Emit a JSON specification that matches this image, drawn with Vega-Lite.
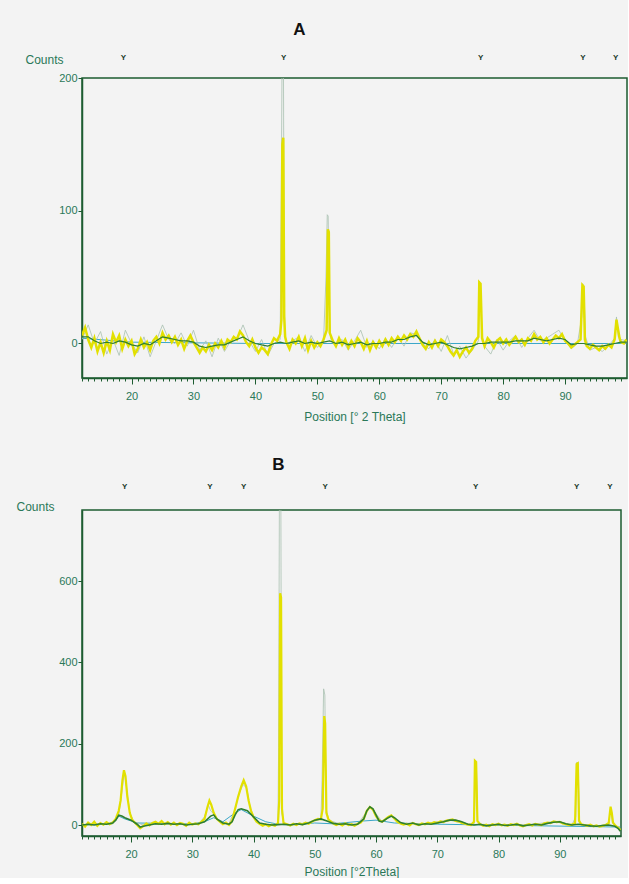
{
"$schema": "https://vega.github.io/schema/vega-lite/v6.json",
"background": "#f3f3f3",
"padding": {"left": 15, "top": 20, "right": 0, "bottom": 0},
"spacing": 32,
"config": {
  "view": {"stroke": "#1d5c30", "strokeWidth": 1.5},
  "axis": {"grid": false, "domainColor": "#1d5c30", "tickColor": "#1d5c30", "labelFont": "Liberation Sans", "labelFontSize": 11, "labelColor": "#2a7858", "titleFont": "Liberation Sans", "titleFontSize": 12, "titleFontWeight": "normal", "titleColor": "#2a7858"},
  "title": {"font": "Liberation Sans", "fontSize": 17, "fontWeight": "bold", "color": "#111111"}
},
"datasets": {
  "a_obs": [{"x":12,"y":6},{"x":12.5,"y":12},{"x":13,"y":3},{"x":13.5,"y":-3},{"x":14,"y":4},{"x":14.5,"y":-6},{"x":15,"y":1},{"x":15.5,"y":-7},{"x":16,"y":2},{"x":16.5,"y":-5},{"x":17,"y":7},{"x":17.5,"y":1},{"x":18,"y":6},{"x":18.5,"y":-4},{"x":19,"y":3},{"x":19.5,"y":-2},{"x":20,"y":2},{"x":20.5,"y":-8},{"x":21,"y":-4},{"x":21.5,"y":3},{"x":22,"y":-3},{"x":22.5,"y":1},{"x":23,"y":-5},{"x":23.5,"y":2},{"x":24,"y":5},{"x":24.5,"y":0},{"x":25,"y":8},{"x":25.5,"y":3},{"x":26,"y":6},{"x":26.5,"y":1},{"x":27,"y":5},{"x":27.5,"y":-1},{"x":28,"y":3},{"x":28.5,"y":-4},{"x":29,"y":2},{"x":29.5,"y":6},{"x":30,"y":1},{"x":30.5,"y":-3},{"x":31,"y":-7},{"x":31.5,"y":-3},{"x":32,"y":-6},{"x":32.5,"y":-1},{"x":33,"y":-5},{"x":33.5,"y":0},{"x":34,"y":-3},{"x":34.5,"y":2},{"x":35,"y":-3},{"x":35.5,"y":3},{"x":36,"y":1},{"x":36.5,"y":5},{"x":37,"y":3},{"x":37.5,"y":9},{"x":38,"y":6},{"x":38.5,"y":1},{"x":39,"y":-2},{"x":39.5,"y":3},{"x":40,"y":-3},{"x":40.5,"y":-7},{"x":41,"y":-3},{"x":41.5,"y":-5},{"x":42,"y":-8},{"x":42.5,"y":-1},{"x":43,"y":4},{"x":43.5,"y":2},{"x":44,"y":7},{"x":44.2,"y":18},{"x":44.35,"y":150},{"x":44.5,"y":155},{"x":44.65,"y":20},{"x":44.8,"y":5},{"x":45,"y":1},{"x":45.5,"y":-4},{"x":46,"y":3},{"x":46.5,"y":0},{"x":47,"y":5},{"x":47.5,"y":-2},{"x":48,"y":4},{"x":48.5,"y":-5},{"x":49,"y":2},{"x":49.5,"y":-3},{"x":50,"y":1},{"x":50.5,"y":-2},{"x":51,"y":3},{"x":51.5,"y":10},{"x":51.7,"y":86},{"x":51.85,"y":84},{"x":52,"y":8},{"x":52.5,"y":2},{"x":53,"y":-2},{"x":53.5,"y":4},{"x":54,"y":-1},{"x":54.5,"y":3},{"x":55,"y":-3},{"x":55.5,"y":2},{"x":56,"y":-2},{"x":56.5,"y":4},{"x":57,"y":1},{"x":57.5,"y":-4},{"x":58,"y":2},{"x":58.5,"y":-5},{"x":59,"y":1},{"x":59.5,"y":-3},{"x":60,"y":2},{"x":60.5,"y":-2},{"x":61,"y":3},{"x":61.5,"y":-1},{"x":62,"y":4},{"x":62.5,"y":1},{"x":63,"y":5},{"x":63.5,"y":2},{"x":64,"y":6},{"x":64.5,"y":3},{"x":65,"y":7},{"x":65.5,"y":5},{"x":66,"y":9},{"x":66.5,"y":4},{"x":67,"y":-1},{"x":67.5,"y":-4},{"x":68,"y":1},{"x":68.5,"y":-3},{"x":69,"y":2},{"x":69.5,"y":-2},{"x":70,"y":3},{"x":70.5,"y":1},{"x":71,"y":-2},{"x":71.5,"y":-6},{"x":72,"y":-9},{"x":72.5,"y":-5},{"x":73,"y":-10},{"x":73.5,"y":-6},{"x":74,"y":-3},{"x":74.5,"y":-7},{"x":75,"y":-4},{"x":75.5,"y":2},{"x":76,"y":5},{"x":76.15,"y":46},{"x":76.35,"y":45},{"x":76.6,"y":4},{"x":77,"y":-2},{"x":77.5,"y":4},{"x":78,"y":1},{"x":78.5,"y":-3},{"x":79,"y":2},{"x":79.5,"y":4},{"x":80,"y":0},{"x":80.5,"y":3},{"x":81,"y":-1},{"x":81.5,"y":2},{"x":82,"y":5},{"x":82.5,"y":1},{"x":83,"y":3},{"x":83.5,"y":-1},{"x":84,"y":4},{"x":84.5,"y":2},{"x":85,"y":7},{"x":85.5,"y":3},{"x":86,"y":5},{"x":86.5,"y":1},{"x":87,"y":4},{"x":87.5,"y":0},{"x":88,"y":3},{"x":88.5,"y":6},{"x":89,"y":4},{"x":89.5,"y":7},{"x":90,"y":2},{"x":90.5,"y":0},{"x":91,"y":-3},{"x":91.5,"y":-1},{"x":92,"y":1},{"x":92.5,"y":3},{"x":92.8,"y":44},{"x":93,"y":43},{"x":93.2,"y":3},{"x":93.5,"y":-2},{"x":94,"y":-4},{"x":94.5,"y":-1},{"x":95,"y":-3},{"x":95.5,"y":-5},{"x":96,"y":-2},{"x":96.5,"y":-4},{"x":97,"y":-1},{"x":97.5,"y":-3},{"x":98,"y":3},{"x":98.3,"y":18},{"x":98.5,"y":12},{"x":98.8,"y":4},{"x":99,"y":1},{"x":99.5,"y":0},{"x":99.9,"y":3}],
  "a_calc": [{"x":12,"y":3},{"x":13,"y":14},{"x":14,"y":0},{"x":15,"y":9},{"x":16,"y":-8},{"x":17,"y":3},{"x":18,"y":-9},{"x":19,"y":10},{"x":20,"y":0},{"x":21,"y":-7},{"x":22,"y":5},{"x":23,"y":-10},{"x":24,"y":2},{"x":25,"y":14},{"x":26,"y":3},{"x":27,"y":0},{"x":28,"y":8},{"x":29,"y":-2},{"x":30,"y":10},{"x":31,"y":-5},{"x":32,"y":2},{"x":33,"y":-10},{"x":34,"y":4},{"x":35,"y":-6},{"x":36,"y":2},{"x":37,"y":3},{"x":38,"y":14},{"x":39,"y":2},{"x":40,"y":-6},{"x":41,"y":3},{"x":42,"y":-9},{"x":43,"y":0},{"x":44,"y":3},{"x":44.2,"y":130},{"x":44.35,"y":250},{"x":44.5,"y":250},{"x":44.65,"y":30},{"x":44.8,"y":6},{"x":45,"y":0},{"x":46,"y":2},{"x":47,"y":5},{"x":48,"y":-6},{"x":49,"y":6},{"x":50,"y":-3},{"x":51,"y":2},{"x":51.4,"y":50},{"x":51.6,"y":97},{"x":51.75,"y":96},{"x":51.9,"y":40},{"x":52,"y":15},{"x":52.2,"y":3},{"x":53,"y":0},{"x":54,"y":3},{"x":55,"y":-5},{"x":56,"y":2},{"x":57,"y":10},{"x":58,"y":-3},{"x":59,"y":2},{"x":60,"y":-4},{"x":61,"y":4},{"x":62,"y":-3},{"x":63,"y":5},{"x":64,"y":-2},{"x":65,"y":8},{"x":66,"y":7},{"x":67,"y":0},{"x":68,"y":-4},{"x":69,"y":3},{"x":70,"y":-6},{"x":71,"y":6},{"x":72,"y":-8},{"x":73,"y":-2},{"x":74,"y":-11},{"x":75,"y":-5},{"x":76,"y":2},{"x":76.15,"y":47},{"x":76.35,"y":30},{"x":76.5,"y":20},{"x":76.7,"y":3},{"x":77,"y":-2},{"x":78,"y":-8},{"x":79,"y":3},{"x":80,"y":-5},{"x":81,"y":2},{"x":82,"y":6},{"x":83,"y":-3},{"x":84,"y":4},{"x":85,"y":10},{"x":86,"y":2},{"x":87,"y":4},{"x":88,"y":7},{"x":89,"y":10},{"x":90,"y":2},{"x":91,"y":-4},{"x":92,"y":0},{"x":92.7,"y":20},{"x":92.85,"y":45},{"x":93.05,"y":40},{"x":93.3,"y":5},{"x":94,"y":-5},{"x":95,"y":-3},{"x":96,"y":-6},{"x":97,"y":-2},{"x":98,"y":4},{"x":98.3,"y":20},{"x":98.6,"y":5},{"x":99,"y":3},{"x":99.9,"y":2}],
  "a_fit": [{"x":12,"y":5},{"x":13,"y":5},{"x":14,"y":2},{"x":15,"y":0},{"x":16,"y":1},{"x":17,"y":0},{"x":18,"y":2},{"x":19,"y":1},{"x":20,"y":-1},{"x":21,"y":-2},{"x":22,"y":0},{"x":23,"y":-1},{"x":24,"y":2},{"x":25,"y":5},{"x":26,"y":4},{"x":27,"y":3},{"x":28,"y":2},{"x":29,"y":2},{"x":30,"y":1},{"x":31,"y":-2},{"x":32,"y":-3},{"x":33,"y":-2},{"x":34,"y":-1},{"x":35,"y":-1},{"x":36,"y":1},{"x":37,"y":3},{"x":38,"y":5},{"x":39,"y":2},{"x":40,"y":0},{"x":41,"y":-1},{"x":42,"y":-2},{"x":43,"y":0},{"x":44,"y":1},{"x":45,"y":0},{"x":46,"y":1},{"x":47,"y":2},{"x":48,"y":0},{"x":49,"y":1},{"x":50,"y":0},{"x":51,"y":1},{"x":52,"y":2},{"x":53,"y":0},{"x":54,"y":1},{"x":55,"y":-1},{"x":56,"y":0},{"x":57,"y":1},{"x":58,"y":-1},{"x":59,"y":0},{"x":60,"y":0},{"x":61,"y":1},{"x":62,"y":1},{"x":63,"y":3},{"x":64,"y":3},{"x":65,"y":5},{"x":66,"y":6},{"x":67,"y":1},{"x":68,"y":-1},{"x":69,"y":0},{"x":70,"y":1},{"x":71,"y":-1},{"x":72,"y":-3},{"x":73,"y":-4},{"x":74,"y":-3},{"x":75,"y":-2},{"x":76,"y":0},{"x":77,"y":0},{"x":78,"y":1},{"x":79,"y":1},{"x":80,"y":1},{"x":81,"y":1},{"x":82,"y":2},{"x":83,"y":2},{"x":84,"y":2},{"x":85,"y":4},{"x":86,"y":3},{"x":87,"y":2},{"x":88,"y":3},{"x":89,"y":4},{"x":90,"y":3},{"x":91,"y":-1},{"x":92,"y":0},{"x":93,"y":0},{"x":94,"y":-1},{"x":95,"y":-2},{"x":96,"y":-2},{"x":97,"y":-1},{"x":98,"y":0},{"x":99,"y":1},{"x":99.9,"y":1}],
  "a_bg": [{"x":12,"y":4},{"x":20,"y":1},{"x":40,"y":0},{"x":60,"y":0},{"x":80,"y":0},{"x":99.9,"y":0}],
  "a_mk": [{"x":18.6},{"x":44.5},{"x":76.3},{"x":92.8},{"x":98.1}],
  "b_obs": [{"x":12,"y":3},{"x":12.5,"y":-4},{"x":13,"y":6},{"x":13.5,"y":0},{"x":14,"y":8},{"x":14.5,"y":-2},{"x":15,"y":5},{"x":15.5,"y":1},{"x":16,"y":7},{"x":16.5,"y":2},{"x":17,"y":6},{"x":17.5,"y":15},{"x":18,"y":35},{"x":18.3,"y":60},{"x":18.6,"y":110},{"x":18.85,"y":135},{"x":19.1,"y":120},{"x":19.4,"y":70},{"x":19.8,"y":30},{"x":20.2,"y":12},{"x":20.5,"y":8},{"x":21,"y":0},{"x":21.5,"y":-8},{"x":22,"y":-3},{"x":22.5,"y":4},{"x":23,"y":-1},{"x":23.5,"y":5},{"x":24,"y":8},{"x":24.5,"y":3},{"x":25,"y":10},{"x":25.5,"y":2},{"x":26,"y":7},{"x":26.5,"y":1},{"x":27,"y":6},{"x":27.5,"y":0},{"x":28,"y":5},{"x":28.5,"y":3},{"x":29,"y":-2},{"x":29.5,"y":6},{"x":30,"y":1},{"x":30.5,"y":4},{"x":31,"y":2},{"x":31.5,"y":8},{"x":32,"y":15},{"x":32.5,"y":45},{"x":32.8,"y":60},{"x":33.1,"y":50},{"x":33.5,"y":30},{"x":34,"y":15},{"x":34.5,"y":8},{"x":35,"y":2},{"x":35.5,"y":6},{"x":36,"y":0},{"x":36.5,"y":10},{"x":37,"y":40},{"x":37.5,"y":70},{"x":38,"y":95},{"x":38.4,"y":110},{"x":38.8,"y":95},{"x":39.2,"y":60},{"x":39.6,"y":35},{"x":40,"y":20},{"x":40.5,"y":8},{"x":41,"y":3},{"x":41.5,"y":-2},{"x":42,"y":2},{"x":42.5,"y":-3},{"x":43,"y":1},{"x":43.5,"y":-2},{"x":44,"y":5},{"x":44.2,"y":60},{"x":44.35,"y":570},{"x":44.5,"y":560},{"x":44.65,"y":40},{"x":44.9,"y":5},{"x":45.5,"y":2},{"x":46,"y":-1},{"x":46.5,"y":3},{"x":47,"y":0},{"x":47.5,"y":4},{"x":48,"y":2},{"x":48.5,"y":6},{"x":49,"y":3},{"x":49.5,"y":8},{"x":50,"y":12},{"x":50.5,"y":15},{"x":51,"y":14},{"x":51.3,"y":40},{"x":51.55,"y":268},{"x":51.7,"y":250},{"x":51.9,"y":30},{"x":52.2,"y":15},{"x":52.5,"y":10},{"x":53,"y":4},{"x":53.5,"y":0},{"x":54,"y":3},{"x":54.5,"y":-1},{"x":55,"y":4},{"x":55.5,"y":0},{"x":56,"y":2},{"x":56.5,"y":-2},{"x":57,"y":3},{"x":57.5,"y":6},{"x":58,"y":15},{"x":58.5,"y":35},{"x":59,"y":44},{"x":59.5,"y":38},{"x":60,"y":22},{"x":60.5,"y":12},{"x":61,"y":8},{"x":61.5,"y":14},{"x":62,"y":20},{"x":62.5,"y":24},{"x":63,"y":16},{"x":63.5,"y":8},{"x":64,"y":4},{"x":64.5,"y":1},{"x":65,"y":3},{"x":65.5,"y":-1},{"x":66,"y":5},{"x":66.5,"y":2},{"x":67,"y":0},{"x":67.5,"y":4},{"x":68,"y":2},{"x":68.5,"y":6},{"x":69,"y":3},{"x":69.5,"y":7},{"x":70,"y":5},{"x":70.5,"y":9},{"x":71,"y":7},{"x":71.5,"y":11},{"x":72,"y":12},{"x":72.5,"y":14},{"x":73,"y":10},{"x":73.5,"y":9},{"x":74,"y":5},{"x":74.5,"y":3},{"x":75,"y":1},{"x":75.5,"y":0},{"x":76,"y":8},{"x":76.15,"y":158},{"x":76.35,"y":155},{"x":76.55,"y":10},{"x":77,"y":2},{"x":77.5,"y":-2},{"x":78,"y":1},{"x":78.5,"y":-3},{"x":79,"y":2},{"x":79.5,"y":0},{"x":80,"y":3},{"x":80.5,"y":-1},{"x":81,"y":1},{"x":81.5,"y":-2},{"x":82,"y":2},{"x":82.5,"y":0},{"x":83,"y":3},{"x":83.5,"y":-1},{"x":84,"y":-3},{"x":84.5,"y":0},{"x":85,"y":2},{"x":85.5,"y":-1},{"x":86,"y":3},{"x":86.5,"y":1},{"x":87,"y":0},{"x":87.5,"y":4},{"x":88,"y":6},{"x":88.5,"y":5},{"x":89,"y":9},{"x":89.5,"y":7},{"x":90,"y":8},{"x":90.5,"y":4},{"x":91,"y":2},{"x":91.5,"y":0},{"x":92,"y":1},{"x":92.5,"y":5},{"x":92.75,"y":150},{"x":92.95,"y":152},{"x":93.15,"y":10},{"x":93.5,"y":2},{"x":94,"y":0},{"x":94.5,"y":-2},{"x":95,"y":1},{"x":95.5,"y":-3},{"x":96,"y":-1},{"x":96.5,"y":-4},{"x":97,"y":-2},{"x":97.5,"y":0},{"x":98,"y":5},{"x":98.3,"y":45},{"x":98.5,"y":30},{"x":98.7,"y":6},{"x":99,"y":0},{"x":99.5,"y":-6},{"x":99.9,"y":-12}],
  "b_calc": [{"x":12,"y":0},{"x":14,"y":3},{"x":16,"y":2},{"x":17.5,"y":10},{"x":18,"y":25},{"x":18.5,"y":80},{"x":18.9,"y":130},{"x":19.3,"y":90},{"x":19.8,"y":30},{"x":20.5,"y":8},{"x":22,"y":0},{"x":25,"y":3},{"x":28,"y":2},{"x":31,"y":3},{"x":32,"y":20},{"x":32.6,"y":50},{"x":33,"y":35},{"x":33.6,"y":26},{"x":34.5,"y":8},{"x":36,"y":3},{"x":37,"y":40},{"x":37.6,"y":75},{"x":38.3,"y":100},{"x":38.9,"y":90},{"x":39.5,"y":40},{"x":40.3,"y":12},{"x":41,"y":2},{"x":43,"y":0},{"x":44,"y":5},{"x":44.1,"y":190},{"x":44.25,"y":900},{"x":44.45,"y":900},{"x":44.6,"y":30},{"x":45,"y":2},{"x":47,"y":1},{"x":50,"y":10},{"x":51,"y":15},{"x":51.2,"y":110},{"x":51.45,"y":335},{"x":51.65,"y":320},{"x":51.85,"y":40},{"x":52.3,"y":12},{"x":54,"y":3},{"x":57,"y":2},{"x":58.5,"y":33},{"x":59,"y":44},{"x":59.6,"y":36},{"x":61,"y":8},{"x":62.5,"y":22},{"x":64,"y":5},{"x":67,"y":2},{"x":70,"y":8},{"x":72,"y":12},{"x":74,"y":5},{"x":76,"y":2},{"x":76.1,"y":40},{"x":76.2,"y":160},{"x":76.4,"y":140},{"x":76.6,"y":10},{"x":77,"y":2},{"x":80,"y":0},{"x":85,"y":1},{"x":89,"y":8},{"x":92,"y":1},{"x":92.6,"y":20},{"x":92.8,"y":155},{"x":93,"y":150},{"x":93.2,"y":15},{"x":93.4,"y":2},{"x":96,"y":-3},{"x":98,"y":3},{"x":98.3,"y":40},{"x":98.6,"y":5},{"x":99.9,"y":-10}],
  "b_fit": [{"x":12,"y":0},{"x":13,"y":2},{"x":14,"y":0},{"x":15,"y":3},{"x":16,"y":2},{"x":17,"y":5},{"x":17.5,"y":12},{"x":18,"y":24},{"x":18.5,"y":22},{"x":19,"y":18},{"x":20,"y":12},{"x":21,"y":2},{"x":21.5,"y":-5},{"x":22,"y":-3},{"x":23,"y":0},{"x":24,"y":3},{"x":25,"y":2},{"x":26,"y":4},{"x":27,"y":2},{"x":28,"y":3},{"x":29,"y":0},{"x":30,"y":2},{"x":31,"y":3},{"x":32,"y":8},{"x":33,"y":22},{"x":33.5,"y":25},{"x":34,"y":15},{"x":35,"y":5},{"x":36,"y":2},{"x":36.5,"y":8},{"x":37,"y":25},{"x":37.5,"y":38},{"x":38,"y":40},{"x":39,"y":35},{"x":40,"y":20},{"x":41,"y":5},{"x":42,"y":2},{"x":43,"y":0},{"x":44,"y":1},{"x":45,"y":2},{"x":46,"y":0},{"x":47,"y":3},{"x":48,"y":1},{"x":49,"y":5},{"x":50,"y":12},{"x":51,"y":15},{"x":52,"y":10},{"x":53,"y":4},{"x":54,"y":2},{"x":55,"y":3},{"x":56,"y":0},{"x":57,"y":2},{"x":58,"y":15},{"x":58.5,"y":35},{"x":59,"y":45},{"x":59.5,"y":40},{"x":60,"y":25},{"x":60.5,"y":10},{"x":61,"y":8},{"x":62,"y":18},{"x":62.5,"y":22},{"x":63,"y":18},{"x":64,"y":6},{"x":65,"y":2},{"x":66,"y":5},{"x":67,"y":0},{"x":68,"y":3},{"x":69,"y":2},{"x":70,"y":5},{"x":71,"y":8},{"x":72,"y":12},{"x":73,"y":12},{"x":74,"y":8},{"x":75,"y":2},{"x":76,"y":0},{"x":77,"y":2},{"x":78,"y":-2},{"x":79,"y":0},{"x":80,"y":2},{"x":81,"y":-1},{"x":82,"y":0},{"x":83,"y":2},{"x":84,"y":-2},{"x":85,"y":0},{"x":86,"y":2},{"x":87,"y":0},{"x":88,"y":4},{"x":89,"y":7},{"x":90,"y":8},{"x":91,"y":3},{"x":92,"y":0},{"x":93,"y":2},{"x":94,"y":0},{"x":95,"y":-2},{"x":96,"y":-3},{"x":97,"y":-1},{"x":98,"y":0},{"x":99,"y":-3},{"x":99.5,"y":-8},{"x":99.9,"y":-15}],
  "b_bg": [{"x":12,"y":0},{"x":17,"y":3},{"x":18,"y":22},{"x":19,"y":15},{"x":21,"y":5},{"x":30,"y":3},{"x":32,"y":8},{"x":33.5,"y":18},{"x":35,"y":8},{"x":37,"y":30},{"x":38,"y":38},{"x":40,"y":22},{"x":42,"y":8},{"x":44,"y":2},{"x":46,"y":0},{"x":50,"y":5},{"x":53,"y":3},{"x":58,"y":10},{"x":60,"y":12},{"x":63,"y":5},{"x":70,"y":2},{"x":99.9,"y":-5}],
  "b_mk": [{"x":18.9},{"x":32.8},{"x":38.3},{"x":51.6},{"x":76.2},{"x":92.7},{"x":98.1}]
},
"vconcat": [
  {
    "title": {"text": "A", "dx": -55, "offset": 14},
    "width": 545, "height": 300,
    "layer": [
      {
        "encoding": {
          "x": {"field": "x", "type": "quantitative", "scale": {"domain": [12, 100], "nice": false, "zero": false},
                "axis": {"orient": "bottom", "title": "Position [° 2 Theta]", "values": [12,13,14,15,16,17,18,19,20,21,22,23,24,25,26,27,28,29,30,31,32,33,34,35,36,37,38,39,40,41,42,43,44,45,46,47,48,49,50,51,52,53,54,55,56,57,58,59,60,61,62,63,64,65,66,67,68,69,70,71,72,73,74,75,76,77,78,79,80,81,82,83,84,85,86,87,88,89,90,91,92,93,94,95,96,97,98,99],
                         "labelExpr": "datum.value % 10 === 0 ? datum.label : ''", "labelOverlap": false, "labelFlush": false,
                         "tickSize": {"condition": {"test": "datum.value % 10 === 0", "value": 6}, "value": 3},
                         "labelPadding": 6, "titlePadding": 10, "domainWidth": 1.5}},
          "y": {"field": "y", "type": "quantitative", "scale": {"domain": [-26, 200], "nice": false, "zero": false},
                "axis": {"values": [0, 100, 200], "title": "Counts", "titleAngle": 0, "titleX": -38, "titleY": -15, "titleAlign": "center", "titleBaseline": "alphabetic", "tickSize": 4, "labelPadding": 1, "domainWidth": 1.5}}
        },
        "layer": [
          {"data": {"name": "a_bg"}, "mark": {"type": "line", "color": "#3aa6c8", "strokeWidth": 1, "clip": true}},
          {"data": {"name": "a_calc"}, "mark": {"type": "line", "color": "#a8c0b0", "strokeWidth": 0.8, "clip": true}},
          {"data": {"name": "a_obs"}, "mark": {"type": "line", "color": "#e2e000", "strokeWidth": 2.5, "clip": true}},
          {"data": {"name": "a_fit"}, "mark": {"type": "line", "color": "#2f7f2f", "strokeWidth": 1.2, "clip": true}}
        ]
      },
      {
        "data": {"name": "a_mk"},
        "mark": {"type": "point", "opacity": 0},
        "encoding": {
          "x": {"field": "x", "type": "quantitative", "scale": {"domain": [12, 100], "nice": false, "zero": false},
                "axis": {"orient": "top", "title": null, "domain": false, "ticks": false, "values": [18.6, 44.5, 76.3, 92.8, 98.1], "labelExpr": "'Y'", "labelFontSize": 8, "labelFontWeight": "bold", "labelColor": "#1a3a2a", "labelPadding": 17, "labelOverlap": false, "labelFlush": false}}
        }
      }
    ],
    "resolve": {"axis": {"x": "independent"}}
  },
  {
    "title": {"text": "B", "dx": -73, "offset": 8},
    "width": 539, "height": 326,
    "layer": [
      {
        "encoding": {
          "x": {"field": "x", "type": "quantitative", "scale": {"domain": [12, 100], "nice": false, "zero": false},
                "axis": {"orient": "bottom", "title": "Position [°2Theta]", "values": [12,13,14,15,16,17,18,19,20,21,22,23,24,25,26,27,28,29,30,31,32,33,34,35,36,37,38,39,40,41,42,43,44,45,46,47,48,49,50,51,52,53,54,55,56,57,58,59,60,61,62,63,64,65,66,67,68,69,70,71,72,73,74,75,76,77,78,79,80,81,82,83,84,85,86,87,88,89,90,91,92,93,94,95,96,97,98,99],
                         "labelExpr": "datum.value % 10 === 0 ? datum.label : ''", "labelOverlap": false, "labelFlush": false,
                         "tickSize": {"condition": {"test": "datum.value % 10 === 0", "value": 6}, "value": 3},
                         "labelPadding": 6, "titlePadding": 7, "domainWidth": 1.5}},
          "y": {"field": "y", "type": "quantitative", "scale": {"domain": [-27, 775], "nice": false, "zero": false},
                "axis": {"values": [0, 200, 400, 600], "title": "Counts", "titleAngle": 0, "titleX": -47, "titleY": 0, "titleAlign": "center", "titleBaseline": "alphabetic", "tickSize": 4, "labelPadding": 1, "domainWidth": 1.5}}
        },
        "layer": [
          {"data": {"name": "b_bg"}, "mark": {"type": "line", "color": "#3aa6c8", "strokeWidth": 1, "clip": true}},
          {"data": {"name": "b_calc"}, "mark": {"type": "line", "color": "#a8c0b0", "strokeWidth": 0.8, "clip": true}},
          {"data": {"name": "b_obs"}, "mark": {"type": "line", "color": "#e2e000", "strokeWidth": 2.2, "clip": true}},
          {"data": {"name": "b_fit"}, "mark": {"type": "line", "color": "#2f7f2f", "strokeWidth": 1.6, "clip": true}}
        ]
      },
      {
        "data": {"name": "b_mk"},
        "mark": {"type": "point", "opacity": 0},
        "encoding": {
          "x": {"field": "x", "type": "quantitative", "scale": {"domain": [12, 100], "nice": false, "zero": false},
                "axis": {"orient": "top", "title": null, "domain": false, "ticks": false, "values": [18.9, 32.8, 38.3, 51.6, 76.2, 92.7, 98.1], "labelExpr": "'Y'", "labelFontSize": 8, "labelFontWeight": "bold", "labelColor": "#1a3a2a", "labelPadding": 20, "labelOverlap": false, "labelFlush": false}}
        }
      }
    ],
    "resolve": {"axis": {"x": "independent"}}
  }
]
}
